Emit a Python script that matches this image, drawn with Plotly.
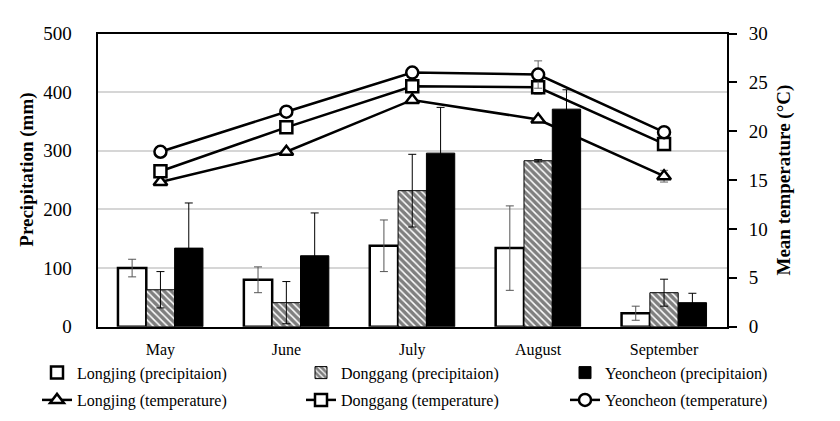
import plotly.graph_objects as go

months = ["May", "June", "July", "August", "September"]

prec_longjing = [100, 80, 138, 134, 23]
prec_longjing_err = [15, 22, 44, 72, 12]
prec_donggang = [63, 41, 232, 283, 58]
prec_donggang_err = [31, 36, 62, 2, 23]
prec_yeoncheon = [134, 121, 296, 371, 41]
prec_yeoncheon_err = [77, 73, 78, 33, 16]

temp_longjing = [14.8, 17.9, 23.2, 21.2, 15.4]
temp_longjing_err = [0, 0, 0, 0, 0.6]
temp_donggang = [15.9, 20.4, 24.6, 24.5, 18.7]
temp_donggang_err = [0, 0, 0, 0.7, 0]
temp_yeoncheon = [17.9, 22.0, 26.0, 25.8, 19.9]
temp_yeoncheon_err = [0, 0, 0, 1.4, 0]

W, H = 840, 421
PL, PR, PT, PB = 97.5, 727, 33.5, 326.7
FONT = "Liberation Serif, Times New Roman, DejaVu Serif, serif"

fig = go.Figure()

fig.add_trace(go.Bar(
    x=months, y=prec_longjing, name="Longjing (precipitaion)",
    marker=dict(color="white", line=dict(color="black", width=2.5)),
    error_y=dict(type="data", array=prec_longjing_err, color="#555555", thickness=1, width=4),
    legend="legend"))
fig.add_trace(go.Bar(
    x=months, y=prec_donggang, name="Donggang (precipitaion)",
    marker=dict(color="white", line=dict(color="black", width=1),
                pattern=dict(shape="\\", fgcolor="black", bgcolor="white", size=5, solidity=0.7)),
    error_y=dict(type="data", array=prec_donggang_err, color="black", thickness=1, width=4),
    legend="legend"))
fig.add_trace(go.Bar(
    x=months, y=prec_yeoncheon, name="Yeoncheon (precipitaion)",
    marker=dict(color="black", line=dict(color="black", width=1)),
    error_y=dict(type="data", array=prec_yeoncheon_err, color="black", thickness=1, width=4),
    legend="legend"))

for vals, errs, name, sym in [
    (temp_longjing, temp_longjing_err, "Longjing (temperature)", "triangle-up"),
    (temp_donggang, temp_donggang_err, "Donggang (temperature)", "square"),
    (temp_yeoncheon, temp_yeoncheon_err, "Yeoncheon (temperature)", "circle"),
]:
    fig.add_trace(go.Scatter(
        x=months, y=vals, name=name, yaxis="y2", mode="lines+markers",
        line=dict(color="black", width=2.5),
        marker=dict(symbol=sym, size=12, color="white", line=dict(color="black", width=2.5)),
        error_y=dict(type="data", array=errs, color="#666666", thickness=1, width=4),
        legend="legend2"))

fig.update_layout(
    width=W, height=H,
    margin=dict(l=0, r=0, t=0, b=0, autoexpand=False),
    paper_bgcolor="white", plot_bgcolor="white",
    font=dict(family=FONT, color="black"),
    barmode="group", bargap=0.325, bargroupgap=0,
    showlegend=True,
    xaxis=dict(domain=[PL / W, PR / W], showline=True, linecolor="black", linewidth=2,
               mirror=True, ticks="", tickfont=dict(size=16, family=FONT),
               ticklabelstandoff=7, showgrid=False, automargin=False),
    yaxis=dict(domain=[1 - PB / H, 1 - PT / H], range=[0, 500], dtick=100,
               showline=True, linecolor="black", linewidth=2, ticks="",
               tickfont=dict(size=19, family=FONT), ticklabelstandoff=20,
               showgrid=True, gridcolor="#d6d6d6", gridwidth=2, zeroline=False,
               automargin=False),
    yaxis2=dict(overlaying="y", side="right", range=[0, 30], dtick=5,
                showline=True, linecolor="black", linewidth=2, ticks="outside",
                ticklen=8, tickwidth=2, tickcolor="black",
                tickfont=dict(size=19, family=FONT), ticklabelstandoff=8,
                showgrid=False, zeroline=False, automargin=False),
    legend=dict(orientation="h", x=37 / W, xanchor="left", y=1 - 372.7 / H, yanchor="middle",
                entrywidth=219, font=dict(size=16, family=FONT), bgcolor="rgba(0,0,0,0)"),
    legend2=dict(orientation="h", x=37 / W, xanchor="left", y=1 - 400 / H, yanchor="middle",
                 entrywidth=219, font=dict(size=16, family=FONT), bgcolor="rgba(0,0,0,0)"),
    annotations=[
        dict(text="<b>Precipitation (mm)</b>", xref="paper", yref="paper",
             x=26.7 / W, y=1 - 170 / H, textangle=-90, showarrow=False,
             font=dict(size=19, family=FONT), xanchor="center", yanchor="middle"),
        dict(text="<b>Mean temperature (°C)</b>", xref="paper", yref="paper",
             x=783 / W, y=1 - 180.5 / H, textangle=-90, showarrow=False,
             font=dict(size=19, family=FONT), xanchor="center", yanchor="middle"),
    ],
)

fig.write_html("out.html")
